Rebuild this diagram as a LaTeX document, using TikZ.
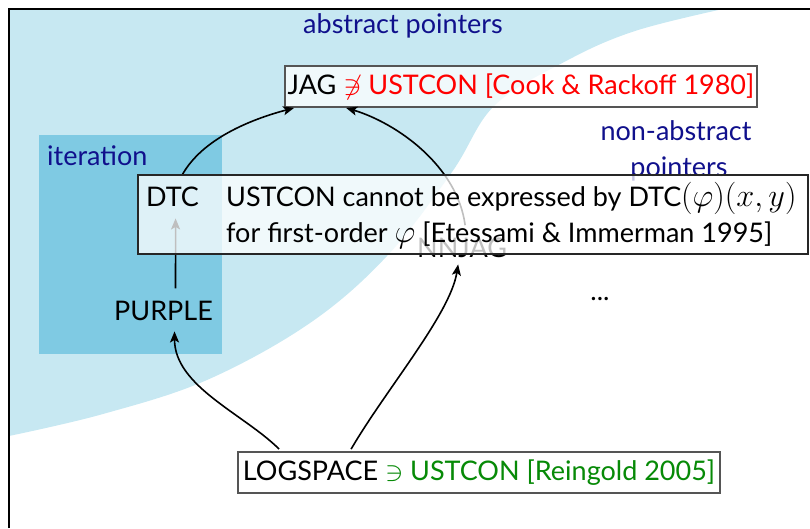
\documentclass[tikz,border=0pt]{standalone}
\usepackage{fontspec}
\setmainfont{Lato}
\usetikzlibrary{arrows.meta}
\pgfdeclarelayer{front}
\pgfsetlayers{main,front}
\definecolor{lightsky}{HTML}{C7E8F2}
\definecolor{iterblue}{HTML}{7FCAE3}
\definecolor{navytext}{HTML}{10108C}
\definecolor{citered}{HTML}{FF0000}
\definecolor{citegreen}{HTML}{078A07}
\definecolor{boxgray}{HTML}{555555}
\newcommand{\largemath}[1]{\scalebox{1.3}{$#1$}}
\newcommand{\relmath}[1]{\scalebox{1.1}{$#1$}}
\tikzset{
  lbl/.style={font=\fontsize{27}{33}\selectfont, inner sep=0pt, anchor=base west},
  clbl/.style={lbl, anchor=base},
  resbox/.style={draw=boxgray, line width=1.8pt, fill=white, fill opacity=0.75,
    text opacity=1, inner sep=0pt, font=\fontsize{27}{33}\selectfont},
  conn/.style={-{Stealth[length=11pt,width=9pt,inset=2.5pt]}, line width=1.6pt},
}
\begin{document}
\begin{tikzpicture}[x=1pt,y=-1pt]
\useasboundingbox (0,0) rectangle (810,528);
% abstract pointer region
\fill[lightsky] (9,9) -- plot[smooth, tension=0.6] coordinates {(723,9) (635,31) (568,60) (495,105) (452,172) (387,256) (310,323) (207,380) (103,414) (9,436)} -- cycle;
\fill[iterblue] (39,135) rectangle (222,354);
% labels
\node[clbl, text=navytext] (abs) at (403,33) {abstract pointers};
\node[clbl, text=navytext] (nonabs) at (676,140) {non-abstract};
\node[clbl, text=navytext] (ptrs) at (679,176) {pointers};
\node[lbl, text=navytext] (iter) at (47,165) {iteration};
\node[lbl] (purple) at (114,320) {PURPLE};
\node[lbl] (nnjag) at (417,257) {NNJAG};
\node[clbl] (dots) at (600,300) {...};
% result boxes
\node[resbox, minimum width=472pt, minimum height=41pt] (jag) at (521,86.5)
  {JAG \textcolor{citered}{\relmath{\not\ni} USTCON [Cook \& Rackoff 1980]}};
\node[resbox, minimum width=482pt, minimum height=41pt] (logspace) at (479,472.5)
  {LOGSPACE \textcolor{citegreen}{\relmath{\ni} USTCON [Reingold 2005]}};
% overlay note
\begin{pgfonlayer}{front}
\node[draw=black!85, line width=2pt, fill=white, fill opacity=0.75, minimum width=670pt, minimum height=79pt, inner sep=0pt] (note) at (473,214.5) {};
\node[lbl] (notea) at (226,206) {USTCON cannot be expressed by DTC\largemath{(\varphi)(x,y)}};
\node[lbl] (noteb) at (226,242) {for first-order \largemath{\varphi} [Etessami \& Immerman 1995]};
\node[lbl] (dtc) at (146,206) {DTC};
\end{pgfonlayer}
% connectors
\draw[conn] ([xshift=10pt,yshift=12pt]dtc.north) .. controls +(20,-35) and +(-45,12) .. ([xshift=10pt]jag.south west);
\draw[conn] ([xshift=3pt,yshift=12pt]nnjag.north) .. controls +(-8,-60) and +(50,15) .. ([xshift=62pt]jag.south west);
\draw[conn] ([xshift=12pt,yshift=12pt]purple.north) -- ([xshift=3pt,yshift=-12pt]dtc.south);
\draw[conn] ([xshift=42pt,yshift=2pt]logspace.north west) .. controls +(-35,-35) and +(0,55) .. ([xshift=11pt,yshift=-11pt]purple.south);
\draw[conn] ([xshift=114pt,yshift=2pt]logspace.north west) .. controls +(35,-60) and +(-8,50) .. ([xshift=-4pt,yshift=-7pt]nnjag.south);
% frame
\draw[line width=2pt] (9,528) -- (9,9) -- (810,9);
\end{tikzpicture}
\end{document}
